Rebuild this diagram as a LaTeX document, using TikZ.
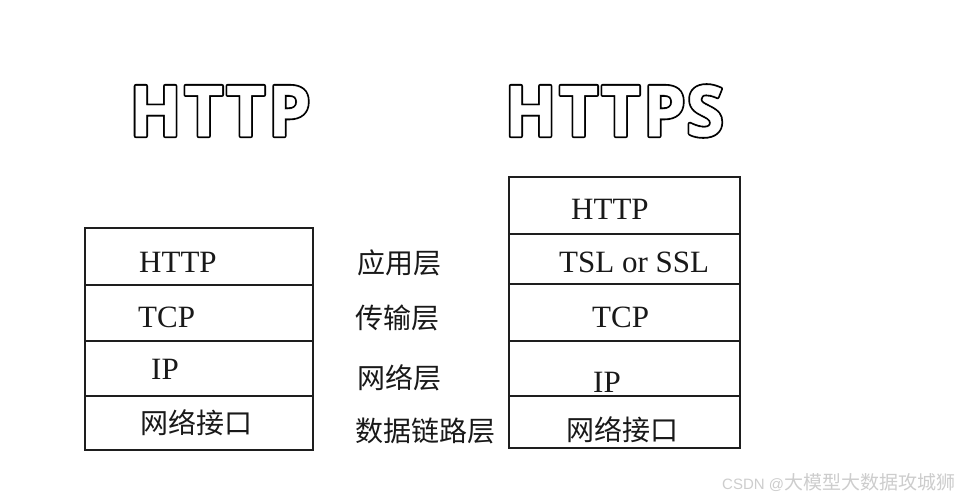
\documentclass[tikz,border=0pt]{standalone}
\usepackage{fontspec}
\setmainfont{Liberation Serif}
\newfontfamily\cjk{Noto Sans CJK SC}
\newfontfamily\titlefont{Open Sans}
\newfontfamily\wmfont{Liberation Sans}
\newcommand\boldoutline[1]{%
  \scalebox{0.965}[1]{%
  \rlap{\special{pdf:literal direct 1 Tr 4.2 w 1 j}#1\special{pdf:literal direct 0 Tr}}%
  {\color{white}\special{pdf:literal direct 2 Tr 0.5 w 1 j}#1\special{pdf:literal direct 0 Tr}}}}
\definecolor{linecol}{RGB}{30,30,30}
\definecolor{wmgrey}{RGB}{205,205,205}
\tikzset{
  layerbox/.style={draw=linecol, line width=1.8pt},
  lat/.style={anchor=base west, inner sep=0pt, font=\fontsize{31}{31}\selectfont, text=black!90},
  zh/.style={anchor=base west, inner sep=0pt, font=\cjk\fontsize{28}{28}\selectfont, text=black!90},
  ttl/.style={anchor=base west, inner sep=0pt, font=\titlefont\bfseries\fontsize{70}{70}\selectfont, text=black},
}
\begin{document}
\begin{tikzpicture}[x=1pt,y=-1pt]
\useasboundingbox[fill=white] (0,0) rectangle (963,500);
% titles
\node[ttl] (t1) at (129.5,136) {\boldoutline{H\kern3pt T\kern3pt T\kern3pt P}};
\node[ttl] (t2) at (504.5,136) {\boldoutline{H\kern3pt T\kern3pt T\kern3pt P\kern1pt S}};
% left stack
\draw[layerbox] (85,228) rectangle (313,285);
\draw[layerbox] (85,285) rectangle (313,341);
\draw[layerbox] (85,341) rectangle (313,396);
\draw[layerbox] (85,396) rectangle (313,450);
\node[lat] (l1) at (139,272) {HTTP};
\node[lat] (l2) at (138,327) {TCP};
\node[lat] (l3) at (151,379) {IP};
\node[zh] (l4) at (140,433) {网络接口};
% middle
\node[zh] (m1) at (357,273) {应用层};
\node[zh] (m2) at (355,328) {传输层};
\node[zh] (m3) at (357,388) {网络层};
\node[zh] (m4) at (355,441) {数据链路层};
% right stack
\draw[layerbox] (509,177) rectangle (740,234);
\draw[layerbox] (509,234) rectangle (740,284);
\draw[layerbox] (509,284) rectangle (740,341);
\draw[layerbox] (509,341) rectangle (740,396);
\draw[layerbox] (509,396) rectangle (740,448);
\node[lat] (r1) at (571,219) {HTTP};
\node[lat] (r2) at (559,272) {TSL or SSL};
\node[lat] (r3) at (592,327) {TCP};
\node[lat] (r4) at (593,392) {IP};
\node[zh] (r5) at (566,440) {网络接口};
% watermark
\node[anchor=base west, inner sep=0pt, text=wmgrey] (wm) at (722,489)
  {\wmfont\fontsize{15}{15}\selectfont CSDN @\cjk\fontsize{19}{19}\selectfont 大模型大数据攻城狮};
\end{tikzpicture}
\end{document}
